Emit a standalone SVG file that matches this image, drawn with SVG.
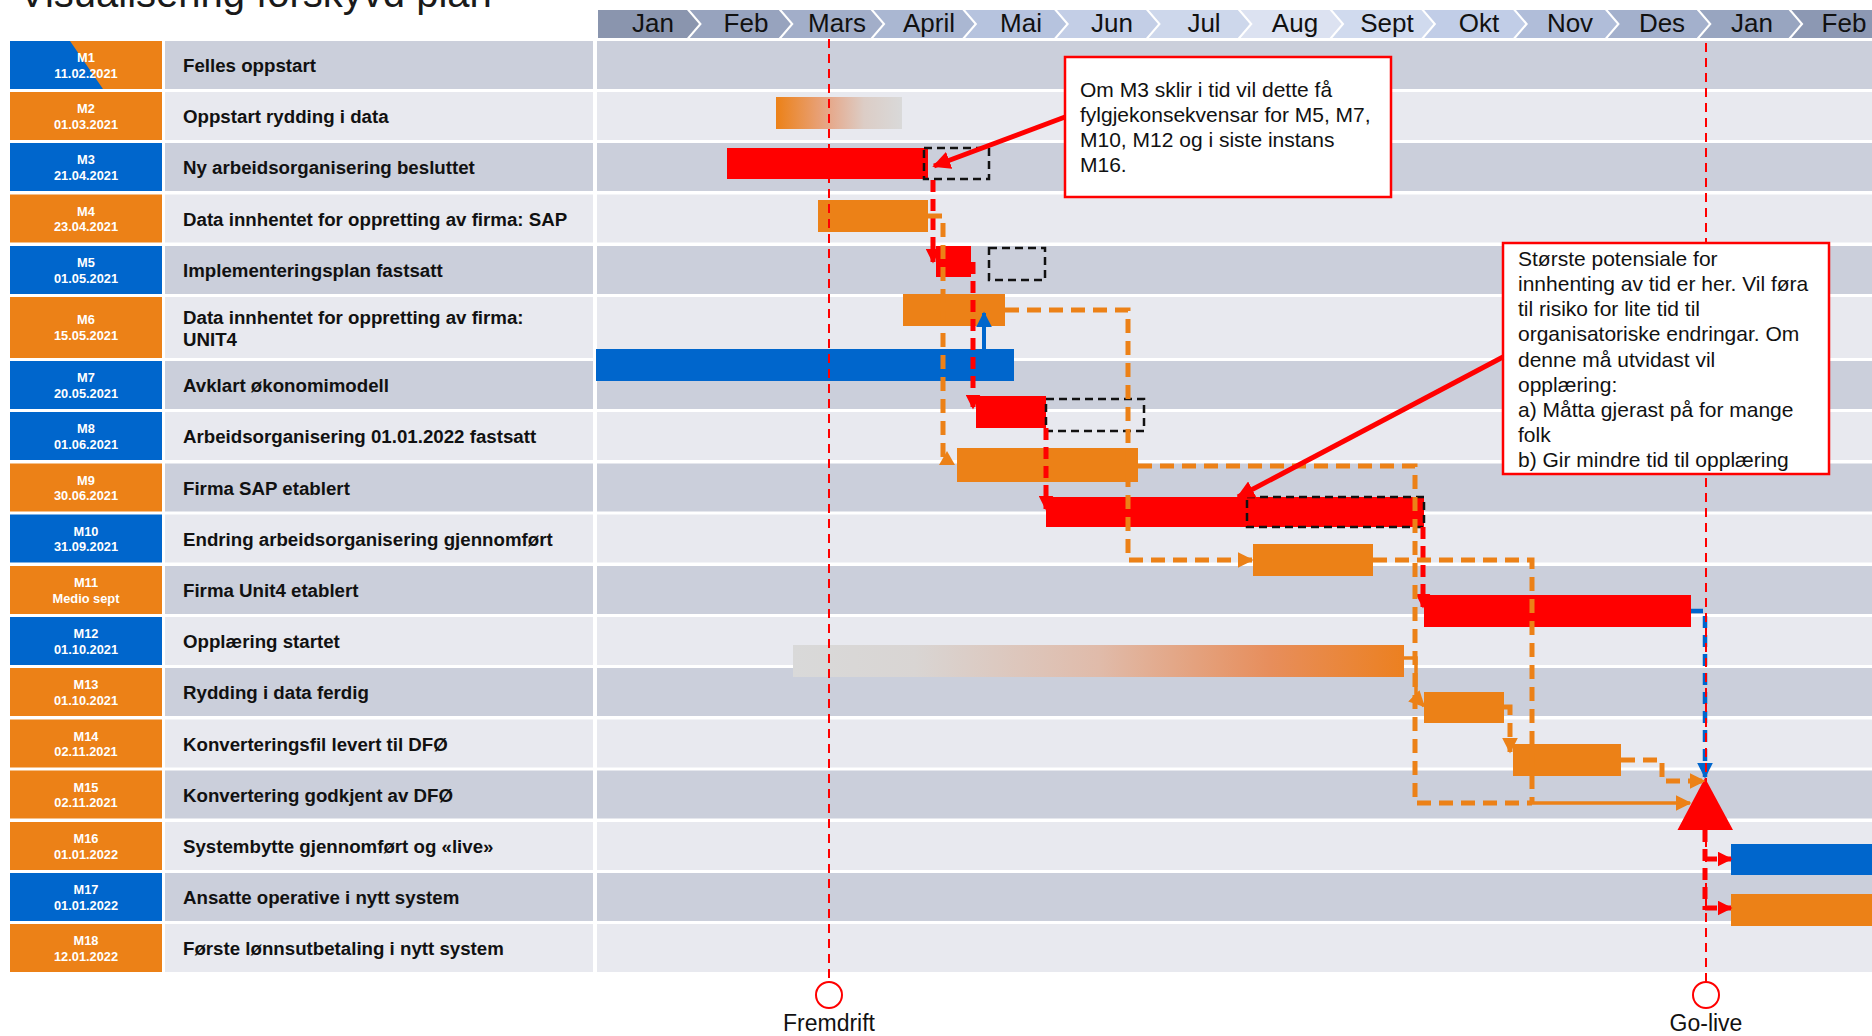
<svg xmlns="http://www.w3.org/2000/svg" width="1872" height="1036" viewBox="0 0 1872 1036">
<style>
.title{font-family:"Liberation Sans",Arial,sans-serif;font-size:40px;fill:#1a1a1a}
.mon{font-family:"Liberation Sans",Arial,sans-serif;font-size:26px;fill:#111;text-anchor:middle}
.ms{font-family:"Liberation Sans",Arial,sans-serif;font-size:12.8px;font-weight:bold;fill:#fff;text-anchor:middle}
.lbl{font-family:"Liberation Sans",Arial,sans-serif;font-size:18.7px;font-weight:bold;fill:#111}
.co{font-family:"Liberation Sans",Arial,sans-serif;font-size:21px;fill:#111}
.cap{font-family:"Liberation Sans",Arial,sans-serif;font-size:23px;fill:#111;text-anchor:middle}
.dk{fill:#CBCFDB}
.lt{fill:#E8E9EF}
.bl{fill:#0066CC}
.or{fill:#EC8117}
.rd{fill:#FF0000}
.box{fill:none;stroke:#111;stroke-width:2.5;stroke-dasharray:8 5}
.cR{fill:none;stroke:#FF0000;stroke-width:5;stroke-dasharray:12 7}
.cO{fill:none;stroke:#EC8117;stroke-width:5;stroke-dasharray:14 8}
.cOs{fill:none;stroke:#EC8117;stroke-width:3.5}
.cB{fill:none;stroke:#0066CC;stroke-width:4.5;stroke-dasharray:12 7}
.cBs{fill:none;stroke:#0066CC;stroke-width:4}
.guide{fill:none;stroke:#FF0000;stroke-width:2;stroke-dasharray:9 6}
.callout{fill:#fff;stroke:#FF0000;stroke-width:2.5}
.cArrow{fill:none;stroke:#FF0000;stroke-width:5}
</style>
<defs>
<linearGradient id="gM2" x1="0" y1="0" x2="1" y2="0">
<stop offset="0" stop-color="#EC8117"/><stop offset="0.4" stop-color="#E7A585"/><stop offset="0.7" stop-color="#DCCDC6"/><stop offset="1" stop-color="#D9D9D9"/>
</linearGradient>
<linearGradient id="gM13" x1="0" y1="0" x2="1" y2="0">
<stop offset="0" stop-color="#D9D9D9"/><stop offset="0.2" stop-color="#D9D5D3"/><stop offset="0.5" stop-color="#E0BBAA"/><stop offset="0.78" stop-color="#E78E5C"/><stop offset="1" stop-color="#EC8020"/>
</linearGradient>
<marker id="aR" viewBox="0 0 10 10" refX="9" refY="5" markerUnits="userSpaceOnUse" markerWidth="15" markerHeight="15" orient="auto"><path d="M0,0 L10,5 L0,10 z" fill="#FF0000"/></marker>
<marker id="aRb" viewBox="0 0 10 10" refX="9" refY="5" markerUnits="userSpaceOnUse" markerWidth="18" markerHeight="18" orient="auto"><path d="M0,0 L10,5 L0,10 z" fill="#FF0000"/></marker>
<marker id="aO" viewBox="0 0 10 10" refX="9" refY="5" markerUnits="userSpaceOnUse" markerWidth="16" markerHeight="16" orient="auto"><path d="M0,0 L10,5 L0,10 z" fill="#EC8117"/></marker>
<marker id="aB" viewBox="0 0 10 10" refX="9" refY="5" markerUnits="userSpaceOnUse" markerWidth="16" markerHeight="16" orient="auto"><path d="M0,0 L10,5 L0,10 z" fill="#0066CC"/></marker>
</defs>
<rect x="0" y="0" width="1872" height="1036" fill="#fff"/>
<g id="title"><text class="title" x="19" y="7">Visualisering forskyvd plan</text></g>
<g id="header">
<polygon points="598,10 687,10 699,24 687,38 598,38" fill="#8A95AE"/>
<polygon points="689.8,10 778.8,10 790.8,24 778.8,38 689.8,38 701.8,24" fill="#97A3BE"/>
<polygon points="781.6,10 870.6,10 882.6,24 870.6,38 781.6,38 793.6,24" fill="#A2AEC9"/>
<polygon points="873.4,10 962.4,10 974.4,24 962.4,38 873.4,38 885.4,24" fill="#AAB7D2"/>
<polygon points="965.2,10 1054.2,10 1066.2,24 1054.2,38 965.2,38 977.2,24" fill="#B6C3DE"/>
<polygon points="1057,10 1146,10 1158,24 1146,38 1057,38 1069,24" fill="#C3CEE6"/>
<polygon points="1148.8,10 1237.8,10 1249.8,24 1237.8,38 1148.8,38 1160.8,24" fill="#CDD7EB"/>
<polygon points="1240.6,10 1329.6,10 1341.6,24 1329.6,38 1240.6,38 1252.6,24" fill="#DCE2F1"/>
<polygon points="1332.4,10 1421.4,10 1433.4,24 1421.4,38 1332.4,38 1344.4,24" fill="#D0DAEE"/>
<polygon points="1424.2,10 1513.2,10 1525.2,24 1513.2,38 1424.2,38 1436.2,24" fill="#C1CDE7"/>
<polygon points="1516,10 1605,10 1617,24 1605,38 1516,38 1528,24" fill="#B0BDD9"/>
<polygon points="1607.8,10 1696.8,10 1708.8,24 1696.8,38 1607.8,38 1619.8,24" fill="#A3B0CC"/>
<polygon points="1699.6,10 1788.6,10 1800.6,24 1788.6,38 1699.6,38 1711.6,24" fill="#98A5C0"/>
<polygon points="1791.4,10 1880.4,10 1892.4,24 1880.4,38 1791.4,38 1803.4,24" fill="#8C98B3"/>
<text class="mon" x="653" y="32">Jan</text>
<text class="mon" x="746" y="32">Feb</text>
<text class="mon" x="837" y="32">Mars</text>
<text class="mon" x="929" y="32">April</text>
<text class="mon" x="1021" y="32">Mai</text>
<text class="mon" x="1112" y="32">Jun</text>
<text class="mon" x="1204" y="32">Jul</text>
<text class="mon" x="1295" y="32">Aug</text>
<text class="mon" x="1387" y="32">Sept</text>
<text class="mon" x="1479" y="32">Okt</text>
<text class="mon" x="1570" y="32">Nov</text>
<text class="mon" x="1662" y="32">Des</text>
<text class="mon" x="1752" y="32">Jan</text>
<text class="mon" x="1844" y="32">Feb</text>
</g>
<g id="rows">
<g id="row-M1"><rect class="dk" x="165" y="41" width="428" height="48"/><rect class="dk" x="597" y="41" width="1275" height="48"/><polygon class="or" points="10,41 162,41 162,89 10,89"/><polygon class="bl" points="10,41 70,41 103,89 10,89"/><text class="ms" x="86" y="62">M1</text><text class="ms" x="86" y="77.5">11.02.2021</text><text class="lbl" x="183" y="72">Felles oppstart</text></g>
<g id="row-M2"><rect class="lt" x="165" y="92" width="428" height="48"/><rect class="lt" x="597" y="92" width="1275" height="48"/><rect class="or" x="10" y="92" width="152" height="48"/><text class="ms" x="86" y="113">M2</text><text class="ms" x="86" y="128.5">01.03.2021</text><text class="lbl" x="183" y="123">Oppstart rydding i data</text></g>
<g id="row-M3"><rect class="dk" x="165" y="143" width="428" height="48"/><rect class="dk" x="597" y="143" width="1275" height="48"/><rect class="bl" x="10" y="143" width="152" height="48"/><text class="ms" x="86" y="164">M3</text><text class="ms" x="86" y="179.5">21.04.2021</text><text class="lbl" x="183" y="174">Ny arbeidsorganisering besluttet</text></g>
<g id="row-M4"><rect class="lt" x="165" y="194.5" width="428" height="48"/><rect class="lt" x="597" y="194.5" width="1275" height="48"/><rect class="or" x="10" y="194.5" width="152" height="48"/><text class="ms" x="86" y="215.5">M4</text><text class="ms" x="86" y="231">23.04.2021</text><text class="lbl" x="183" y="225.5">Data innhentet for oppretting av firma: SAP</text></g>
<g id="row-M5"><rect class="dk" x="165" y="246" width="428" height="48"/><rect class="dk" x="597" y="246" width="1275" height="48"/><rect class="bl" x="10" y="246" width="152" height="48"/><text class="ms" x="86" y="267">M5</text><text class="ms" x="86" y="282.5">01.05.2021</text><text class="lbl" x="183" y="277">Implementeringsplan fastsatt</text></g>
<g id="row-M6"><rect class="lt" x="165" y="297" width="428" height="61"/><rect class="lt" x="597" y="297" width="1275" height="61"/><rect class="or" x="10" y="297" width="152" height="61"/><text class="ms" x="86" y="323.5">M6</text><text class="ms" x="86" y="340">15.05.2021</text><text class="lbl" x="183" y="323.5">Data innhentet for oppretting av firma:</text><text class="lbl" x="183" y="345.5">UNIT4</text></g>
<g id="row-M7"><rect class="dk" x="165" y="361" width="428" height="48"/><rect class="dk" x="597" y="361" width="1275" height="48"/><rect class="bl" x="10" y="361" width="152" height="48"/><text class="ms" x="86" y="382">M7</text><text class="ms" x="86" y="397.5">20.05.2021</text><text class="lbl" x="183" y="392">Avklart økonomimodell</text></g>
<g id="row-M8"><rect class="lt" x="165" y="412" width="428" height="48"/><rect class="lt" x="597" y="412" width="1275" height="48"/><rect class="bl" x="10" y="412" width="152" height="48"/><text class="ms" x="86" y="433">M8</text><text class="ms" x="86" y="448.5">01.06.2021</text><text class="lbl" x="183" y="443">Arbeidsorganisering 01.01.2022 fastsatt</text></g>
<g id="row-M9"><rect class="dk" x="165" y="463.5" width="428" height="48"/><rect class="dk" x="597" y="463.5" width="1275" height="48"/><rect class="or" x="10" y="463.5" width="152" height="48"/><text class="ms" x="86" y="484.5">M9</text><text class="ms" x="86" y="500">30.06.2021</text><text class="lbl" x="183" y="494.5">Firma SAP etablert</text></g>
<g id="row-M10"><rect class="lt" x="165" y="514.5" width="428" height="48"/><rect class="lt" x="597" y="514.5" width="1275" height="48"/><rect class="bl" x="10" y="514.5" width="152" height="48"/><text class="ms" x="86" y="535.5">M10</text><text class="ms" x="86" y="551">31.09.2021</text><text class="lbl" x="183" y="545.5">Endring arbeidsorganisering gjennomført</text></g>
<g id="row-M11"><rect class="dk" x="165" y="566" width="428" height="48"/><rect class="dk" x="597" y="566" width="1275" height="48"/><rect class="or" x="10" y="566" width="152" height="48"/><text class="ms" x="86" y="587">M11</text><text class="ms" x="86" y="602.5">Medio sept</text><text class="lbl" x="183" y="597">Firma Unit4 etablert</text></g>
<g id="row-M12"><rect class="lt" x="165" y="617" width="428" height="48"/><rect class="lt" x="597" y="617" width="1275" height="48"/><rect class="bl" x="10" y="617" width="152" height="48"/><text class="ms" x="86" y="638">M12</text><text class="ms" x="86" y="653.5">01.10.2021</text><text class="lbl" x="183" y="648">Opplæring startet</text></g>
<g id="row-M13"><rect class="dk" x="165" y="668" width="428" height="48"/><rect class="dk" x="597" y="668" width="1275" height="48"/><rect class="or" x="10" y="668" width="152" height="48"/><text class="ms" x="86" y="689">M13</text><text class="ms" x="86" y="704.5">01.10.2021</text><text class="lbl" x="183" y="699">Rydding i data ferdig</text></g>
<g id="row-M14"><rect class="lt" x="165" y="719.5" width="428" height="48"/><rect class="lt" x="597" y="719.5" width="1275" height="48"/><rect class="or" x="10" y="719.5" width="152" height="48"/><text class="ms" x="86" y="740.5">M14</text><text class="ms" x="86" y="756">02.11.2021</text><text class="lbl" x="183" y="750.5">Konverteringsfil levert til DFØ</text></g>
<g id="row-M15"><rect class="dk" x="165" y="770.5" width="428" height="48"/><rect class="dk" x="597" y="770.5" width="1275" height="48"/><rect class="or" x="10" y="770.5" width="152" height="48"/><text class="ms" x="86" y="791.5">M15</text><text class="ms" x="86" y="807">02.11.2021</text><text class="lbl" x="183" y="801.5">Konvertering godkjent av DFØ</text></g>
<g id="row-M16"><rect class="lt" x="165" y="822" width="428" height="48"/><rect class="lt" x="597" y="822" width="1275" height="48"/><rect class="or" x="10" y="822" width="152" height="48"/><text class="ms" x="86" y="843">M16</text><text class="ms" x="86" y="858.5">01.01.2022</text><text class="lbl" x="183" y="853">Systembytte gjennomført og «live»</text></g>
<g id="row-M17"><rect class="dk" x="165" y="873" width="428" height="48"/><rect class="dk" x="597" y="873" width="1275" height="48"/><rect class="bl" x="10" y="873" width="152" height="48"/><text class="ms" x="86" y="894">M17</text><text class="ms" x="86" y="909.5">01.01.2022</text><text class="lbl" x="183" y="904">Ansatte operative i nytt system</text></g>
<g id="row-M18"><rect class="lt" x="165" y="924" width="428" height="48"/><rect class="lt" x="597" y="924" width="1275" height="48"/><rect class="or" x="10" y="924" width="152" height="48"/><text class="ms" x="86" y="945">M18</text><text class="ms" x="86" y="960.5">12.01.2022</text><text class="lbl" x="183" y="955">Første lønnsutbetaling i nytt system</text></g>
</g>
<g id="bars">
<rect id="bar-M2" x="776" y="97" width="126" height="32" fill="url(#gM2)"/>
<rect id="bar-M3" class="rd" x="727" y="148" width="201" height="31"/>
<rect id="bar-M4" class="or" x="818" y="200" width="110" height="32"/>
<rect id="bar-M5" class="rd" x="936" y="246" width="35" height="31"/>
<rect id="bar-M6" class="or" x="903" y="294" width="102" height="32"/>
<rect id="bar-M7" class="bl" x="596" y="349" width="418" height="32"/>
<rect id="bar-M8" class="rd" x="976" y="396" width="70" height="32"/>
<rect id="bar-M9" class="or" x="957" y="448" width="181" height="34"/>
<rect id="bar-M10" class="rd" x="1046" y="497" width="378" height="30"/>
<rect id="bar-M11" class="or" x="1253" y="544" width="120" height="32"/>
<rect id="bar-M12" class="rd" x="1424" y="595" width="267" height="32"/>
<rect id="bar-M13" x="793" y="645" width="611" height="32" fill="url(#gM13)"/>
<rect id="bar-M14" class="or" x="1424" y="692" width="80" height="31"/>
<rect id="bar-M15" class="or" x="1513" y="744" width="108" height="32"/>
<polygon id="golive-milestone" class="rd" points="1705,778 1677.5,830 1733,830"/>
<rect id="bar-M16" class="bl" x="1731" y="844" width="141" height="31"/>
<rect id="bar-M17" class="or" x="1731" y="894" width="141" height="32"/>
<rect id="slip-M3" class="box" x="924" y="148" width="65" height="31"/>
<rect id="slip-M5" class="box" x="989" y="248" width="56" height="32"/>
<rect id="slip-M8" class="box" x="1046" y="399" width="98" height="32"/>
<rect id="slip-M10" class="box" x="1247" y="497" width="177" height="30"/>
</g>
<g id="connectors">
<path class="cR" d="M933,180 V262" marker-end="url(#aR)"/>
<path class="cR" d="M973,262 V408" marker-end="url(#aR)"/>
<path class="cR" d="M1046,428 V509" marker-end="url(#aR)"/>
<path class="cR" d="M1423,527 V607" marker-end="url(#aR)"/>
<path class="cB" d="M1691,611 H1705 V777" marker-end="url(#aB)"/>
<path class="cBs" d="M984,349 V313" marker-end="url(#aB)"/>
<path class="cO" d="M928,216 H943 V460"/>
<polygon points="939,465 947,451 955,465" fill="#EC8117"/>
<path class="cO" d="M1005,310 H1128 V560 H1252" marker-end="url(#aO)"/>
<path class="cO" d="M1138,466 H1415 V803 H1532"/>
<path class="cO" d="M1373,560 H1532 V803"/>
<path class="cOs" d="M1532,803 H1690" marker-end="url(#aO)"/>
<path class="cOs" d="M1404,658 H1416 V698 L1424,706" marker-end="url(#aO)"/>
<path class="cO" d="M1504,707 H1510 V752" marker-end="url(#aO)"/>
<path class="cO" d="M1621,760 H1662 V781 H1704" marker-end="url(#aO)"/>
<path class="cR" d="M1705,830 V910"/>
<path class="cR" d="M1705,859 H1731" marker-end="url(#aR)"/>
<path class="cR" d="M1705,908 H1731" marker-end="url(#aR)"/>
</g>
<g id="guides">
<path class="guide" d="M829,39 V982"/>
<path class="guide" d="M1706,43 V982"/>
<circle cx="829" cy="995" r="13" fill="#fff" stroke="#FF0000" stroke-width="2"/>
<circle cx="1706" cy="995" r="13" fill="#fff" stroke="#FF0000" stroke-width="2"/>
<text class="cap" x="829" y="1031">Fremdrift</text>
<text class="cap" x="1706" y="1031">Go-live</text>
</g>
<g id="callouts">
<g id="callout-1">
<rect class="callout" x="1065" y="57" width="326" height="140"/>
<text class="co" x="1080" y="96.7">Om M3 sklir i tid vil dette få</text>
<text class="co" x="1080" y="121.7">fylgjekonsekvensar for M5, M7,</text>
<text class="co" x="1080" y="146.7">M10, M12 og i siste instans</text>
<text class="co" x="1080" y="171.7">M16.</text>
</g>
<g id="callout-2">
<rect class="callout" x="1503" y="243" width="326" height="231"/>
<text class="co" x="1518" y="265.7">Største potensiale for</text>
<text class="co" x="1518" y="290.9">innhenting av tid er her. Vil føra</text>
<text class="co" x="1518" y="316.1">til risiko for lite tid til</text>
<text class="co" x="1518" y="341.3">organisatoriske endringar. Om</text>
<text class="co" x="1518" y="366.5">denne må utvidast vil</text>
<text class="co" x="1518" y="391.7">opplæring:</text>
<text class="co" x="1518" y="416.9">a) Måtta gjerast på for mange</text>
<text class="co" x="1518" y="442.1">folk</text>
<text class="co" x="1518" y="467.3">b) Gir mindre tid til opplæring</text>
</g>
<path class="cArrow" d="M1065,117 L934,166" marker-end="url(#aRb)"/>
<path class="cArrow" d="M1503,357 L1238,497" marker-end="url(#aRb)"/>
</g>
</svg>
